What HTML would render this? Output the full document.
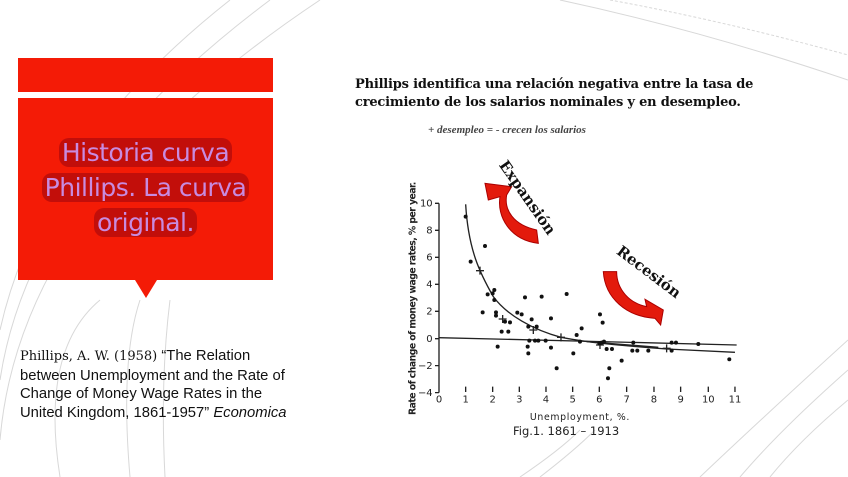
<!DOCTYPE html>
<html><head><meta charset="utf-8"><style>
body{margin:0;width:848px;height:477px;overflow:hidden;background:#fff;position:relative;font-family:"Liberation Sans",sans-serif}
.abs{position:absolute}
.ttl{position:absolute;left:18px;width:255px;top:135px;text-align:center;font-family:"DejaVu Sans","Liberation Sans",sans-serif;font-size:25px;line-height:35px;color:#c88be0;letter-spacing:-0.5px}
.ttl span{background:#c20e0a;border-radius:10px;padding:0 3px;-webkit-box-decoration-break:clone;box-decoration-break:clone}
</style></head><body>
<svg class="abs" style="left:0;top:0" width="848" height="477">
<g fill="none" stroke="#d8d8d8" stroke-width="1">
<path d="M0 330 Q40 150 230 0"/><path d="M0 380 Q30 180 270 0"/><path d="M0 440 Q20 200 320 0"/>
<path d="M60 477 Q40 350 100 300"/><path d="M130 477 Q120 360 140 300"/><path d="M165 477 Q160 380 170 300"/>
<path d="M560 0 Q700 30 848 80"/><path d="M610 0 Q720 20 848 55" stroke-dasharray="3 2"/>
<path d="M848 340 Q760 420 700 477"/><path d="M848 370 Q780 430 740 477"/><path d="M848 400 Q800 440 770 477"/>
<path d="M520 477 Q560 450 580 430"/><path d="M540 477 Q575 450 595 430"/>
</g>
<rect x="18" y="58" width="255" height="34" fill="#f41b06"/>
<rect x="18" y="98" width="255" height="182" fill="#f41b06"/>
<polygon points="135,280 157,280 146,298" fill="#f41b06"/>
<g transform="translate(400,150) scale(0.3333)">
<g stroke="#222" stroke-width="4" fill="none">
<path d="M117 160 V728 M105 160 H117 M105 241 H117 M105 322 H117 M105 403 H117 M105 484 H117 M105 566 H117 M105 647 H117 M105 728 H117"/>
<path d="M117 563 L1010 585"/>
<path d="M197 163 C205 300 240 370 280 440 C320 495 400 540 483 562 C560 577 640 585 800 597 L1005 607"/>
<path d="M560 575 L775 592"/>
<path d="M197 710 v16 M278 710 v16 M358 710 v16 M438 710 v16 M518 710 v16 M598 710 v16 M680 710 v16 M762 710 v16 M842 710 v16 M925 710 v16 M1005 710 v16"/>
<path d="M228 362 h24 M240 350 v24 M296 507 h24 M308 495 v24 M388 540 h24 M400 528 v24 M471 562 h24 M483 550 v24 M588 585 h24 M600 573 v24 M788 595 h24 M800 583 v24"/>
</g>
<g fill="#111">
<circle cx="197" cy="200" r="6"/><circle cx="212" cy="335" r="6"/><circle cx="255" cy="288" r="6"/><circle cx="248" cy="487" r="6"/><circle cx="263" cy="433" r="6"/><circle cx="278" cy="430" r="6"/><circle cx="283" cy="420" r="6"/><circle cx="283" cy="450" r="6"/><circle cx="288" cy="487" r="6"/><circle cx="288" cy="497" r="6"/><circle cx="293" cy="590" r="6"/><circle cx="305" cy="545" r="6"/><circle cx="315" cy="515" r="6"/><circle cx="325" cy="545" r="6"/><circle cx="330" cy="517" r="6"/><circle cx="352" cy="488" r="6"/><circle cx="365" cy="493" r="6"/><circle cx="375" cy="442" r="6"/><circle cx="385" cy="530" r="6"/><circle cx="383" cy="590" r="6"/><circle cx="385" cy="610" r="6"/><circle cx="388" cy="572" r="6"/><circle cx="395" cy="508" r="6"/><circle cx="405" cy="572" r="6"/><circle cx="410" cy="530" r="6"/><circle cx="415" cy="572" r="6"/><circle cx="425" cy="440" r="6"/><circle cx="437" cy="572" r="6"/><circle cx="453" cy="505" r="6"/><circle cx="453" cy="593" r="6"/><circle cx="470" cy="655" r="6"/><circle cx="500" cy="432" r="6"/><circle cx="520" cy="610" r="6"/><circle cx="530" cy="555" r="6"/><circle cx="545" cy="535" r="6"/><circle cx="540" cy="575" r="6"/><circle cx="600" cy="493" r="6"/><circle cx="608" cy="518" r="6"/><circle cx="598" cy="580" r="6"/><circle cx="605" cy="578" r="6"/><circle cx="612" cy="575" r="6"/><circle cx="620" cy="597" r="6"/><circle cx="624" cy="685" r="6"/><circle cx="628" cy="655" r="6"/><circle cx="636" cy="597" r="6"/><circle cx="665" cy="632" r="6"/><circle cx="700" cy="578" r="6"/><circle cx="697" cy="602" r="6"/><circle cx="712" cy="602" r="6"/><circle cx="745" cy="602" r="6"/><circle cx="815" cy="578" r="6"/><circle cx="815" cy="602" r="6"/><circle cx="828" cy="578" r="6"/><circle cx="895" cy="582" r="6"/><circle cx="988" cy="628" r="6"/>
</g>
<g font-family="DejaVu Sans,sans-serif" font-size="30" fill="#222" text-anchor="end">
<text x="98" y="170">10</text><text x="98" y="251">8</text><text x="98" y="332">6</text><text x="98" y="413">4</text><text x="98" y="494">2</text><text x="98" y="576">0</text><text x="98" y="657">−2</text><text x="98" y="738">−4</text>
</g>
<g font-family="DejaVu Sans,sans-serif" font-size="30" fill="#222" text-anchor="middle">
<text x="117" y="758">0</text><text x="197" y="758">1</text><text x="278" y="758">2</text><text x="358" y="758">3</text><text x="438" y="758">4</text><text x="518" y="758">5</text><text x="598" y="758">6</text><text x="680" y="758">7</text><text x="762" y="758">8</text><text x="842" y="758">9</text><text x="925" y="758">10</text><text x="1005" y="758">11</text>
<text x="540" y="810" font-size="28" letter-spacing="2">Unemployment,    %.</text>
<text transform="translate(46,445) rotate(-90)" x="0" y="0" font-size="28" textLength="700" font-weight="bold">Rate of change of money wage rates, % per year.</text>
</g>
<path d="M415 280 C330 270 290 200 300 140 L265 150 L255 100 L335 110 L320 135 C312 180 340 225 410 240 Z" fill="#e31a0c" stroke="#a00" stroke-width="3"/>
<path d="M610 365 L650 365 C650 420 690 460 740 470 L735 448 L790 480 L782 525 L765 505 C680 500 615 445 610 365 Z" fill="#e31a0c" stroke="#a00" stroke-width="3"/>
</g>
</svg>
<div class="ttl"><span>Historia curva</span><br><span>Phillips. La curva</span><br><span>original.</span></div>
<div class="abs" style="left:355px;top:76px;width:420px;font-family:'DejaVu Serif',serif;font-weight:bold;font-size:13px;line-height:18px;color:#111;letter-spacing:-0.2px;white-space:nowrap">Phillips identifica una relación negativa entre la tasa de<br>crecimiento de los salarios nominales y en desempleo.</div>
<div class="abs" style="left:428px;top:124px;font-family:'Liberation Serif',serif;font-style:italic;font-weight:bold;font-size:11px;color:#444">+ desempleo = - crecen los salarios</div>
<div class="abs" style="left:510px;top:157px;font-family:'DejaVu Serif',serif;font-weight:bold;font-size:15px;transform:rotate(55deg);transform-origin:left top;color:#111;white-space:nowrap">Expansión</div>
<div class="abs" style="left:624px;top:242px;font-family:'DejaVu Serif',serif;font-weight:bold;font-size:15px;transform:rotate(37deg);transform-origin:left top;color:#111;white-space:nowrap">Recesión</div>
<div class="abs" style="left:513px;top:424px;font-family:'DejaVu Sans',sans-serif;font-size:11.5px;color:#222">Fig.1. 1861 – 1913</div>
<div class="abs" style="left:20px;top:347px;width:320px;font-size:14.8px;line-height:18.5px;color:#111;white-space:nowrap"><span style="font-family:'DejaVu Serif',serif;font-size:13px">Phillips, A. W. (1958)</span> “The Relation<br>between Unemployment and the Rate of<br>Change of Money Wage Rates in the<br>United Kingdom, 1861-1957” <i>Economica</i></div>
</body></html>
